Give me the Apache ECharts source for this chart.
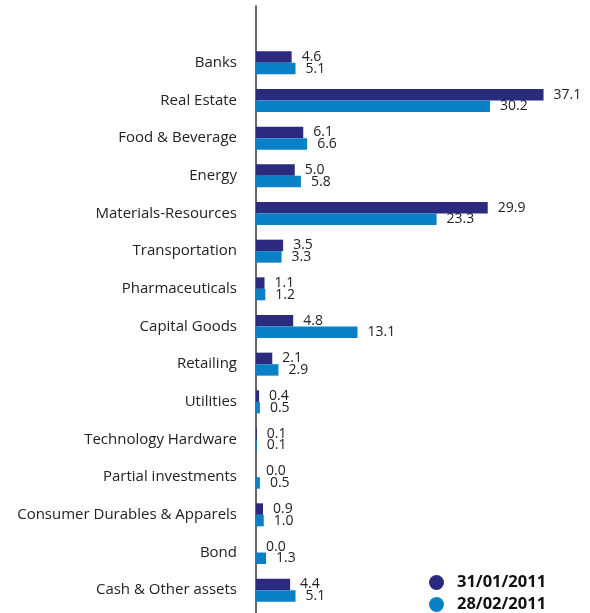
<!DOCTYPE html>
<html>
<head>
<meta charset="utf-8">
<script src="https://cdn.jsdelivr.net/npm/echarts@6/dist/echarts.min.js"></script>
<style>
  html, body { margin: 0; padding: 0; background: #ffffff; }
  #chart { width: 590px; height: 613px; }
</style>
</head>
<body>
<div id="chart"></div>
<script>
// Sector allocation (%) at two month-ends
const categories = [
  'Banks', 'Real Estate', 'Food & Beverage', 'Energy', 'Materials-Resources',
  'Transportation', 'Pharmaceuticals', 'Capital Goods', 'Retailing', 'Utilities',
  'Technology Hardware', 'Partial investments', 'Consumer Durables & Apparels',
  'Bond', 'Cash & Other assets'
];
const jan2011 = [4.6, 37.1, 6.1, 5.0, 29.9, 3.5, 1.1, 4.8, 2.1, 0.4, 0.1, 0.0, 0.9, 0.0, 4.4];
const feb2011 = [5.1, 30.2, 6.6, 5.8, 23.3, 3.3, 1.2, 13.1, 2.9, 0.5, 0.1, 0.5, 1.0, 1.3, 5.1];
const seriesNames = ['31/01/2011', '28/02/2011'];

const DARK = '#2a2a7e';
const BLUE = '#0a80c6';
const FONT = '"Open Sans", "Noto Sans", sans-serif';

const chart = echarts.init(document.getElementById('chart'), null, { renderer: 'canvas' });

const valueLabel = {
  show: true,
  position: 'right',
  distance: 10,
  color: '#222',
  fontFamily: FONT,
  fontSize: 14,
  formatter: p => p.value.toFixed(1)
};

// one single-entry legend per series, stacked in the lower right corner
const legendRows = seriesNames.map((name, i) => ({
  left: 429,
  top: 574 + i * 22,
  padding: 0,
  icon: 'circle',
  itemWidth: 15,
  itemHeight: 15,
  textStyle: {
    fontFamily: FONT, fontSize: 16.5, fontWeight: 'bold', color: '#111',
    padding: [0, 0, 0, 8]
  },
  data: [name]
}));

chart.setOption({
  animation: false,
  backgroundColor: '#ffffff',
  grid: [
    { left: 256, right: 24, top: 44, bottom: 4 },
    // taller frame used only for the vertical baseline
    { left: 256, right: 24, top: 6, bottom: 0 }
  ],
  legend: legendRows,
  xAxis: [
    { gridIndex: 0, type: 'value', min: 0, max: 40, show: false },
    { gridIndex: 1, type: 'value', min: 0, max: 40, show: false }
  ],
  yAxis: [
    {
      gridIndex: 0,
      type: 'category',
      inverse: true,
      data: categories,
      axisLine: { show: false },
      axisTick: { show: false },
      axisLabel: { margin: 19, color: '#222', fontFamily: FONT, fontSize: 15 }
    },
    {
      gridIndex: 1,
      type: 'category',
      data: [''],
      axisLine: { show: true, lineStyle: { color: '#333', width: 1.5 } },
      axisTick: { show: false },
      axisLabel: { show: false }
    }
  ],
  series: [
    {
      name: seriesNames[0],
      type: 'bar',
      xAxisIndex: 0, yAxisIndex: 0,
      data: jan2011,
      barWidth: 11.5,
      barGap: '0%',
      itemStyle: { color: DARK },
      label: valueLabel
    },
    {
      name: seriesNames[1],
      type: 'bar',
      xAxisIndex: 0, yAxisIndex: 0,
      data: feb2011,
      barWidth: 11.5,
      barGap: '0%',
      itemStyle: { color: BLUE },
      label: valueLabel
    }
  ]
});
</script>
</body>
</html>
